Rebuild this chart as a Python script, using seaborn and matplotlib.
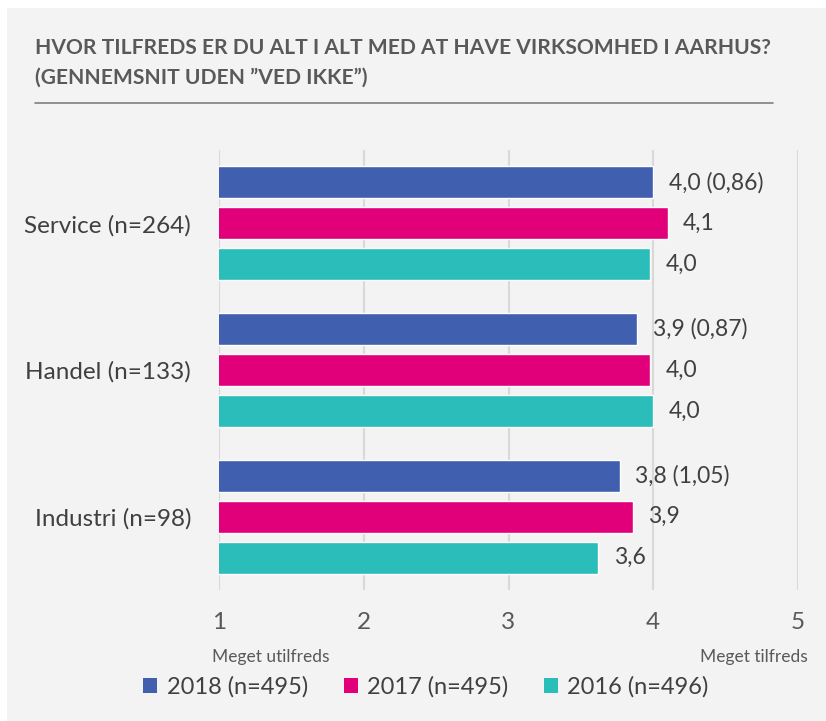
import pandas as pd
import matplotlib.pyplot as plt
import seaborn as sns
from matplotlib.patches import Patch, Rectangle
from matplotlib.lines import Line2D

# Data
categories = ["Service (n=264)", "Handel (n=133)", "Industri (n=98)"]
years = ["2018 (n=495)", "2017 (n=495)", "2016 (n=496)"]
values_2018 = [4.00, 3.89, 3.77]
values_2017 = [4.10, 3.98, 3.86]
values_2016 = [3.98, 4.00, 3.62]
sd_2018 = [0.86, 0.87, 1.05]
colors = ["#4060AF", "#E2007A", "#2ABDBA"]

rows = []
for year, vals in zip(years, [values_2018, values_2017, values_2016]):
    for cat, v in zip(categories, vals):
        rows.append({"Kategori": cat, "År": year, "Gennemsnit": v})
df = pd.DataFrame(rows)

sns.set_style("white")
plt.rcParams["font.family"] = ["Lato", "DejaVu Sans"]
text_col = "#404040"

fig = plt.figure(figsize=(8.26, 7.21), dpi=100)
fig.patch.set_facecolor("white")
fig.patches.append(Rectangle((7 / 826, 0), 1, 1 - 8 / 721, transform=fig.transFigure,
                             facecolor="#F3F3F3", edgecolor="none", zorder=-10))

ax = fig.add_axes([219 / 826, 1 - 590 / 721, (798 - 219) / 826, (590 - 150) / 721])
ax.set_facecolor("none")

sns.barplot(data=df, y="Kategori", x="Gennemsnit", hue="År", orient="h",
            palette=colors, saturation=1, width=0.837, gap=0.22, ax=ax, legend=False)

ax.set_xlim(1, 5)
ax.set_ylim(2.5, -0.5)
ax.set_xticks([1, 2, 3, 4, 5])
ax.grid(axis="x", color="#D9D9D9", linewidth=1.5)
ax.set_axisbelow(True)
for s in ax.spines.values():
    s.set_visible(False)
ax.set_xlabel("")
ax.set_ylabel("")
ax.tick_params(axis="x", length=0, labelsize=17.5, labelcolor="#595959", pad=16)
ax.tick_params(axis="y", length=0, labelsize=17.5, labelcolor=text_col, pad=20)

# value labels
for i, cont in enumerate(ax.containers):
    vals = [values_2018, values_2017, values_2016][i]
    if i == 0:
        labels = [f"{v:.1f} ({sd:.2f})".replace(".", ",") for v, sd in zip(vals, sd_2018)]
    else:
        labels = [f"{v:.1f}".replace(".", ",") for v in vals]
    ax.bar_label(cont, labels=labels, padding=11, fontsize=16.5, color=text_col)

# title
fig.text(35 / 826, 1 - 48 / 721, "HVOR TILFREDS ER DU ALT I ALT MED AT HAVE VIRKSOMHED I AARHUS?",
         fontsize=15.1, fontweight="bold", color="#595959", va="center")
fig.text(35 / 826, 1 - 78 / 721, "(GENNEMSNIT UDEN \u201dVED IKKE\u201d)",
         fontsize=15.1, fontweight="bold", color="#595959", va="center")
fig.add_artist(Line2D([35 / 826, 773 / 826], [1 - 103 / 721, 1 - 103 / 721],
                      transform=fig.transFigure, color="#7F7F7F", linewidth=1.2))

# scale end labels
fig.text(212 / 826, 1 - 657 / 721, "Meget utilfreds", fontsize=12.5, color="#595959",
         va="center", ha="left")
fig.text(808 / 826, 1 - 657 / 721, "Meget tilfreds", fontsize=12.5, color="#595959",
         va="center", ha="right")

# legend
handles = [Patch(facecolor=c, edgecolor="none", label=y) for c, y in zip(colors, years)]
fig.legend(handles=handles, loc="center", bbox_to_anchor=(426 / 826, 1 - 687 / 721),
           ncol=3, frameon=False, fontsize=17, handlelength=0.6, handleheight=0.6,
           handletextpad=0.4, columnspacing=1.5, labelcolor=text_col)

fig.savefig("out.png", dpi=100)
plt.close(fig)
